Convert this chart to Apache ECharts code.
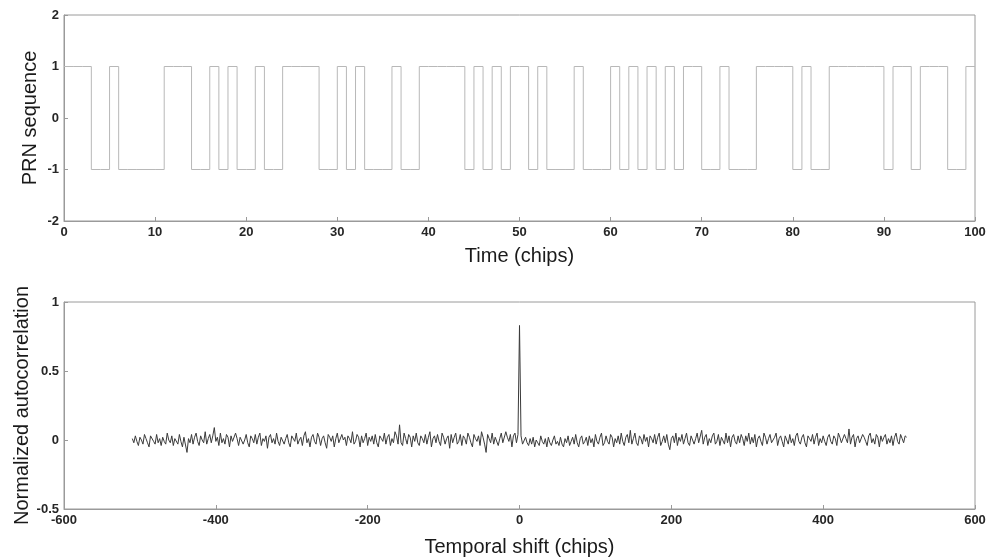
<!DOCTYPE html>
<html>
<head>
<meta charset="utf-8">
<script src="https://cdn.jsdelivr.net/npm/echarts@6/dist/echarts.min.js"></script>
<style>
html,body{margin:0;padding:0;background:#fff;}
#chart{width:988px;height:557px;}
</style>
</head>
<body>
<div id="chart"></div>
<script>
// ---- Top panel: PRN chip sequence (value of each chip 0..99) ----
const prnChips = [
  1,1,1,-1,-1,1,-1,-1,-1,-1,
  -1,1,1,1,-1,-1,1,-1,1,-1,
  -1,1,-1,-1,1,1,1,1,-1,-1,
  1,-1,1,-1,-1,-1,1,-1,-1,1,
  1,1,1,1,-1,1,-1,1,-1,1,
  1,-1,1,-1,-1,-1,1,-1,-1,-1,
  1,-1,1,-1,1,-1,1,-1,1,1,
  -1,-1,1,-1,-1,-1,1,1,1,1,
  -1,1,-1,-1,1,1,1,1,1,1,
  -1,1,1,-1,1,1,1,-1,-1,1
];
const prnXTicks = [0,10,20,30,40,50,60,70,80,90,100];
const prnYTicks = [-2,-1,0,1,2];

// ---- Bottom panel: normalized autocorrelation (hundredths), lags -510..510 step 2 ----
const lagStart = -510;
const lagStep = 2;
const acfHundredths = [
  1,-2,3,-1,-4,2,0,-3,4,1,-2,-5,3,2,-1,-3,4,-2,1,-4,
  2,-1,-3,5,0,-2,3,-4,1,2,-3,4,-1,-5,2,3,-9,1,-2,4,
  -3,2,5,-1,-4,3,0,-2,6,-3,1,4,-2,3,9,-1,2,-4,5,-2,
  1,-3,4,2,-5,3,-1,-2,5,1,-4,2,3,-3,0,4,-2,-5,3,1,
  -2,4,-3,2,5,-4,1,-1,3,-6,2,4,-2,1,-3,5,-1,-4,2,3,
  -3,1,4,-2,-5,3,2,-1,5,-3,0,2,-4,3,6,-2,1,-5,2,4,
  -1,-3,5,2,-4,1,3,-2,-6,4,2,-1,3,-5,1,5,-2,-3,4,0,
  2,-4,3,1,-2,6,-3,-1,4,2,-5,3,-2,1,5,-4,2,-1,3,-3,
  4,-2,-5,3,1,-1,5,-3,2,4,-4,1,-2,6,3,-3,11,-2,-4,5,
  1,-3,4,2,-5,3,-1,5,-2,-4,3,1,-2,4,-3,2,6,-5,1,3,
  -2,4,-1,-4,5,2,-3,1,3,-6,4,-2,2,5,-3,-1,4,-4,3,1,
  -3,5,2,-2,-5,4,1,-1,3,-4,6,2,-3,-9,4,1,-2,5,-3,2,
  3,-4,1,5,-2,-3,6,2,-1,4,-5,3,5,-2,4,83,3,-3,-4,2,
  -2,-4,1,-3,2,-5,0,-2,-4,3,-1,-3,1,-5,2,-2,-4,0,3,-3,
  -1,-4,2,-3,-5,1,-2,3,-4,-1,2,-3,4,-2,-5,1,3,-3,-1,2,
  -4,3,-2,1,-5,4,-1,-3,2,5,-4,-2,3,-1,-3,4,2,-5,1,-2,
  3,-3,5,-1,-4,2,4,-2,7,-3,1,5,-2,-4,3,1,-3,4,-1,2,
  -5,3,1,-2,4,-3,2,5,-4,-1,3,-2,4,-3,-7,1,3,-2,5,-4,
  2,-1,4,-3,1,5,-2,-4,3,2,-3,1,5,-2,-1,7,-3,2,4,-4,
  1,-2,3,5,-3,-1,4,-4,2,1,-3,5,-2,3,-5,2,4,-1,-3,3,
  -2,4,1,-4,3,-1,5,-3,2,-2,4,-5,1,3,-1,-4,5,2,-3,1,
  4,-2,-3,2,5,-4,1,3,-1,-5,3,2,-3,4,-2,1,-4,3,5,-1,
  -3,2,4,-2,-5,3,1,-1,4,-3,2,5,-4,1,-2,3,-1,-4,2,4,
  -1,-3,3,1,-4,5,2,-2,-3,4,1,-2,8,-3,2,4,-5,1,3,-2,
  -3,4,2,-1,-4,3,5,-2,1,-3,4,2,-5,3,-1,2,4,-3,1,-2,
  3,-4,2,5,-1,-3,4,1,-2,3,2
];
const acfXTicks = [-600,-400,-200,0,200,400,600];
const acfYTicks = [-0.5,0,0.5,1];

// ---- build series data ----
const prnData = prnChips.map((v, i) => [i, v]);
prnData.push([prnChips.length, prnChips[prnChips.length - 1]]);
const acfData = acfHundredths.map((v, i) => [lagStart + lagStep * i, v / 100]);

const labelStyle = { color: '#262626', fontSize: 13, fontFamily: 'Liberation Sans, Arial, sans-serif', fontWeight: 'bold' };
const nameStyle = { color: '#1a1a1a', fontSize: 20, fontFamily: 'Liberation Sans, Arial, sans-serif' };
const lineCol = '#9a9a9a';

function mkAxis(idx, ticks, name, gap) {
  return {
    type: 'value', gridIndex: idx,
    min: ticks[0], max: ticks[ticks.length - 1], interval: ticks[1] - ticks[0],
    name: name, nameLocation: 'middle', nameGap: gap, nameTextStyle: nameStyle,
    nameMoveOverlap: false,
    axisLine: { show: true, onZero: false, lineStyle: { color: lineCol } },
    axisTick: { show: true, inside: true, length: 4, lineStyle: { color: lineCol } },
    axisLabel: Object.assign({ margin: 5 }, labelStyle),
    splitLine: { show: false }
  };
}

const chart = echarts.init(document.getElementById('chart'), null, { renderer: 'canvas' });
chart.setOption({
  backgroundColor: '#fff',
  animation: false,
  grid: [
    { left: 64, width: 911, top: 15, height: 206, outerBoundsMode: 'none', containLabel: false, show: true, borderColor: lineCol, borderWidth: 1, backgroundColor: 'transparent' },
    { left: 64, width: 911, top: 302, height: 207, outerBoundsMode: 'none', containLabel: false, show: true, borderColor: lineCol, borderWidth: 1, backgroundColor: 'transparent' }
  ],
  xAxis: [
    mkAxis(0, prnXTicks, 'Time (chips)', 25),
    mkAxis(1, acfXTicks, 'Temporal shift (chips)', 28)
  ],
  yAxis: [
    mkAxis(0, prnYTicks, 'PRN sequence', 24),
    mkAxis(1, acfYTicks, 'Normalized autocorrelation', 32)
  ],
  series: [
    {
      type: 'line', xAxisIndex: 0, yAxisIndex: 0, step: 'end',
      data: prnData, showSymbol: false, symbol: 'none',
      lineStyle: { color: '#b8b8b8', width: 1 }
    },
    {
      type: 'line', xAxisIndex: 1, yAxisIndex: 1,
      data: acfData, showSymbol: false, symbol: 'none',
      lineStyle: { color: '#3a3a3a', width: 1 }
    }
  ]
});
</script>
</body>
</html>
